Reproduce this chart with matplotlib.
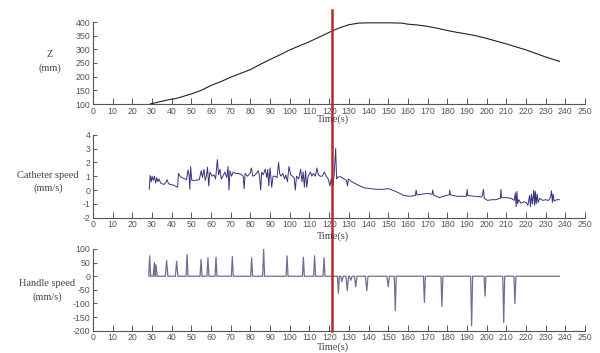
import matplotlib
matplotlib.use("Agg")
import matplotlib.pyplot as plt
import matplotlib.transforms as mtransforms
from matplotlib.lines import Line2D
import numpy as np

plt.rcParams["axes.unicode_minus"] = False

# ---------------- data ----------------
z_t = [29, 32, 35, 38, 42, 45, 50, 55, 60, 65, 70, 75, 80, 85, 90, 95, 100, 105,
       110, 115, 120, 125, 130, 135, 140, 150, 157, 160, 165, 170, 175, 180, 185,
       190, 195, 200, 205, 210, 215, 220, 225, 230, 237]
z_v = [100, 105, 110, 115, 120, 126, 137, 150, 168, 182, 198, 212, 226, 245, 263,
       280, 298, 313, 328, 345, 362, 378, 390, 396, 397, 397, 396, 392, 389, 384,
       377, 369, 362, 356, 349, 340, 330, 320, 309, 298, 285, 272, 256]

cat_t = [28.6, 29.0, 29.6, 30.0, 30.6, 31.2, 31.8, 32.4, 33.0, 33.6, 34.4, 35.2, 36.0,
         37.0, 37.6, 38.4, 39.5, 41.0, 43.0, 43.4, 44.5, 46.0, 47.5, 48.3, 48.8, 49.2,
         49.6, 50.2, 52.0, 54.0, 55.0, 55.6, 56.4, 57.0, 57.6, 58.2, 58.8, 59.4, 60.5,
         61.5, 62.3, 63.2, 63.8, 64.5, 65.2, 66.0, 67.0, 68.0, 68.6, 69.1, 69.6, 70.4,
         71.2, 72.5, 74.0, 75.5, 76.3, 76.8, 77.3, 78.5, 79.8, 80.5, 81.2, 82.5, 84.0,
         84.6, 85.2, 85.7, 86.5, 87.5, 88.3, 88.8, 89.3, 90.0, 90.8, 91.5, 92.5, 93.5,
         94.3, 94.8, 95.5, 96.5, 97.3, 98.0, 98.8, 99.6, 100.5, 101.3, 102.2, 102.8,
         103.4, 104.5, 105.5, 106.2, 106.8, 107.4, 108.0, 108.6, 109.3, 110.5, 111.2,
         112.0, 113.0, 113.8, 114.5, 115.5, 116.5, 117.5, 118.5, 119.5, 120.4, 121.0,
         121.8, 122.6, 123.3, 123.8, 124.5, 126.0, 127.5, 128.8, 129.3, 129.8, 131.5,
         133.5, 135.5, 138.0, 141.0, 144.0, 147.0, 150.0, 153.0, 156.0, 158.0, 161.0,
         163.8, 164.2, 164.6, 167.0, 170.0, 172.3, 172.6, 173.0, 176.0, 178.0, 181.0,
         181.3, 181.6, 185.0, 189.8, 190.1, 190.4, 194.0, 197.5, 198.0, 198.4, 198.8,
         200.5, 202.5, 204.5, 207.0, 207.3, 207.6, 210.0, 212.5, 214.0, 214.6, 215.0,
         215.4, 215.8, 216.3, 217.5, 219.0, 220.0, 221.0, 221.8, 222.3, 222.8, 223.3,
         224.0, 224.4, 224.8, 225.2, 225.7, 226.2, 227.0, 228.5, 230.0, 231.5, 232.5,
         233.0, 233.4, 233.8, 234.3, 235.5, 237.0]
cat_v = [0.05, 1.05, 0.6, 1.0, 0.7, 1.0, 0.5, 0.9, 0.6, 0.8, 0.5, 0.45, 0.4,
         0.55, 0.75, 0.45, 0.4, 0.35, 0.2, 1.2, 0.95, 0.85, 0.75, 1.45, 1.1, 0.05,
         1.7, 0.7, 0.7, 0.75, 1.4, 0.9, 1.5, 0.7, 1.0, 1.65, 0.3, 1.3, 1.0,
         1.1, 0.8, 2.2, 1.1, 1.5, 0.8, 1.0, 1.3, 0.9, 1.7, 0.0, 1.4, 1.0,
         1.3, 1.2, 1.2, 1.1, 1.0, 0.1, 1.2, 1.0, 1.2, 1.6, 1.0, 1.1, 1.4,
         1.0, 0.0, 1.3, 1.1, 1.5, 0.9, 1.5, 0.3, 1.6, 0.2, 1.0, 1.0, 0.9,
         2.0, 1.2, 1.0, 1.2, 0.8, 1.1, 0.6, 1.7, 1.1, 1.0, 0.9, 0.0,
         1.0, 0.8, 1.5, 0.6, 1.3, 0.2, 1.4, 0.2, 1.0, 1.3, 1.0,
         1.2, 1.0, 1.6, 1.1, 1.0, 1.0, 1.3, 1.0, 0.8, 0.3, 0.8,
         0.2, 1.2, 3.0, 0.8, 0.95, 0.95, 0.8, 0.7, 0.3, 0.8, 0.6,
         0.45, 0.3, 0.15, 0.1, 0.05, 0.05, 0.1, -0.05, -0.25, -0.4, -0.45,
         -0.4, 0.0, -0.35, -0.3, -0.25, -0.3, 0.0, -0.35, -0.55, -0.45, -0.35,
         0.0, -0.35, -0.45, -0.45, 0.05, -0.4, -0.45, -0.5, -0.3, 0.05, -0.6,
         -0.75, -0.7, -0.7, -0.6, 0.05, -0.55, -0.55, -0.6, -0.75, -0.2, -1.2,
         -0.1, -1.0, -0.7, -0.95, -0.85, -0.9, -1.1, -0.4, -1.2, -0.3, -1.0,
         0.0, -1.1, -0.1, -1.0, -0.3, -0.9, -0.6, -0.75, -0.7, -0.75, -0.5,
         -0.05, -0.9, -0.3, -0.8, -0.7, -0.7]

handle_t = [28.8, 31.2, 32.0, 37.4, 42.5, 47.8, 54.9, 58.4, 62.5, 70.8, 80.6, 86.7,
            98.6, 106.9, 112.6, 117.4,
            124.7, 126.5, 129.2, 131.0, 133.5, 139.1, 150.0, 153.6, 168.4, 177.3,
            192.4, 199.2, 208.7, 214.4]
handle_h = [75, 50, 42, 58, 55, 80, 62, 68, 70, 72, 68, 100,
            75, 70, 75, 68,
            -63, -20, -53, -15, -39, -53, -39, -127, -96, -112,
            -182, -73, -170, -100]
handle_start, handle_end = 28.5, 237.0

event_t = 121.4

x_ticks = list(range(0, 251, 10))
z_ticks = list(range(100, 401, 50))
cat_ticks = list(range(-2, 5))
hand_ticks = list(range(-200, 101, 50))

# ---------------- figure ----------------
fig = plt.figure(figsize=(6.0, 3.53), dpi=100)
W, H = 600.0, 353.0
left = 93 / W
width = 492 / W

def make_ax(top_px, bottom_px):
    return fig.add_axes([left, 1 - bottom_px / H, width, (bottom_px - top_px) / H])

ax1 = make_ax(22, 104)
ax2 = make_ax(134.7, 217.7)
ax3 = make_ax(249, 330.7)

tick_family = ["Liberation Sans Narrow", "Liberation Sans", "DejaVu Sans"]
label_font = ["Liberation Serif", "DejaVu Serif"]
spine_col = "#555555"

for ax, yt in ((ax1, z_ticks), (ax2, cat_ticks), (ax3, hand_ticks)):
    ax.set_xlim(0, 250)
    ax.set_ylim(yt[0], yt[-1])
    ax.set_xticks(x_ticks)
    ax.set_yticks(yt)
    ax.spines["top"].set_visible(False)
    ax.spines["right"].set_visible(False)
    for s in ("left", "bottom"):
        ax.spines[s].set_color(spine_col)
        ax.spines[s].set_linewidth(0.8)
    ax.tick_params(axis="x", direction="in", length=4.5, width=0.7, colors=spine_col,
                   labelsize=6.3, labelcolor="#555555", pad=2)
    ax.tick_params(axis="y", direction="in", length=3, width=0.7, colors=spine_col,
                   labelsize=6.3, labelcolor="#555555", pad=2)
    for lab in ax.get_xticklabels() + ax.get_yticklabels():
        lab.set_family(tick_family)
    ax.patch.set_alpha(0)

# Z
ax1.plot(z_t, z_v, color="#222222", lw=0.8)

# Catheter speed
ax2.plot(cat_t, cat_v, color="#34347a", lw=0.7)

# Handle speed (build spike keypoints from peak data)
ht = [handle_start]
hv = [0.0]
for t, h in zip(handle_t, handle_h):
    w = 0.5 if abs(h) > 60 else 0.65
    ht += [t - w, t, t + w]
    hv += [0.0, h, 0.0]
ht.append(handle_end)
hv.append(0.0)
ax3.plot(ht, hv, color="#6f6f8f", lw=0.9)

# y labels (horizontal, left)
fig.text(50 / W, 1 - 61.5 / H, "Z\n(mm)", ha="center", va="center",
         family=label_font, fontsize=7.5, color="#444444", linespacing=1.5)
fig.text(48 / W, 1 - 182 / H, "Catheter speed\n(mm/s)", ha="center", va="center",
         family=label_font, fontsize=7.5, color="#444444", linespacing=1.5)
fig.text(47 / W, 1 - 290.5 / H, "Handle speed\n(mm/s)", ha="center", va="center",
         family=label_font, fontsize=7.5, color="#444444", linespacing=1.5)

# x labels
for ypx in (119.5, 236, 347):
    fig.text(333 / W, 1 - ypx / H, "Time(s)", ha="center", va="center",
             family=label_font, fontsize=7.5, color="#444444")

# red event line spanning all panels
trans = mtransforms.blended_transform_factory(ax1.transData, fig.transFigure)
fig.add_artist(Line2D([event_t, event_t], [1 - 10 / H, 1 - 331 / H],
                      transform=trans, color="#b52a2a", lw=1.8))

fig.savefig("out.png", dpi=100)
